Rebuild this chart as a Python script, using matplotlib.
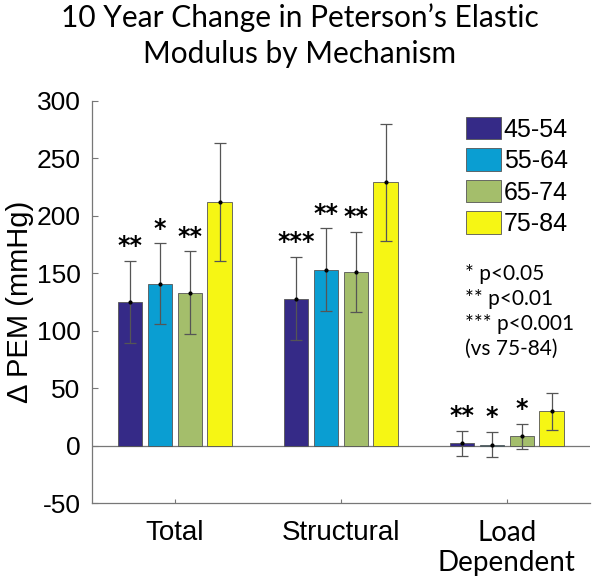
import matplotlib
matplotlib.use("Agg")
import matplotlib.pyplot as plt
import numpy as np

plt.rcParams["axes.unicode_minus"] = False

# data
groups = ["Total", "Structural", "Load\nDependent"]
age_bands = ["45-54", "55-64", "65-74", "75-84"]
colors = ["#352a87", "#0a9ed2", "#a4be6b", "#f6f614"]

pem_45 = [125, 128, 2]
pem_55 = [141, 153, 1]
pem_65 = [133, 151, 8]
pem_75 = [212, 229, 30]
err_45 = [36, 36, 11]
err_55 = [35, 36, 11]
err_65 = [36, 35, 11]
err_75 = [51, 51, 16]
stars_45 = ["**", "***", "**"]
stars_55 = ["*", "**", "*"]
stars_65 = ["**", "**", "*"]
stars_75 = ["", "", ""]

means = [pem_45, pem_55, pem_65, pem_75]
errs = [err_45, err_55, err_65, err_75]
stars = [stars_45, stars_55, stars_65, stars_75]

fig = plt.figure(figsize=(6, 5.83), dpi=100)
ax = fig.add_axes([0.153, 0.137, 0.83, 0.69])

x = np.arange(1, len(groups) + 1)
width = 0.147
pitch = 0.18
for i in range(len(age_bands)):
    xs = x + (i - 1.5) * pitch
    ax.bar(xs, means[i], width, color=colors[i], edgecolor="#555555",
           linewidth=0.6, label=age_bands[i], zorder=2)
    ax.errorbar(xs, means[i], yerr=errs[i], fmt="o", ms=2, color="black",
                ecolor="#555555", elinewidth=0.9, capsize=4, capthick=0.9, zorder=3)
    for xi, m, e, s in zip(xs, means[i], errs[i], stars[i]):
        if s:
            ax.annotate(s, (xi, m + e), xytext=(0, 2), textcoords="offset points",
                        ha="center", va="bottom", fontsize=17, fontweight="bold",
                        family="DejaVu Sans")

ax.axhline(0, color="#777777", lw=0.9, zorder=1)
ax.set_xlim(0.5, 3.5)
ax.set_ylim(-50, 300)
ax.set_yticks(np.arange(-50, 301, 50))
ax.set_xticks(x)
ax.set_xticklabels(groups)
for lab in ax.get_xticklabels():
    lab.set_family("Lato" if "\n" in lab.get_text() else "Liberation Sans")
    lab.set_fontsize(20)
ax.tick_params(axis="y", direction="in", length=4, labelsize=19, color="#777777", pad=8)
ax.tick_params(axis="x", direction="in", length=3, color="#777777", pad=12)
for lab in ax.get_yticklabels():
    lab.set_family("Liberation Sans")
for sp in ["top", "right"]:
    ax.spines[sp].set_visible(False)
for sp in ["left", "bottom"]:
    ax.spines[sp].set_color("#777777")
    ax.spines[sp].set_linewidth(0.9)

ax.set_ylabel("\u0394 PEM (mmHg)", fontsize=21, family="Liberation Sans", labelpad=2)

leg = ax.legend(loc="upper left", bbox_to_anchor=(0.752, 0.96), frameon=False,
                prop={"family": "Liberation Sans", "size": 18},
                handlelength=1.4, handleheight=1.0, handletextpad=0.1, labelspacing=0.27,
                borderaxespad=0, borderpad=0)
for h in leg.legend_handles:
    h.set_edgecolor("#555555")

ax.text(0.749, 0.595, "* p<0.05\n** p<0.01\n*** p<0.001\n(vs 75-84)", transform=ax.transAxes,
        ha="left", va="top", fontsize=15, family="Lato", linespacing=1.32)

fig.suptitle("10 Year Change in Peterson\u2019s Elastic\nModulus by Mechanism",
             fontsize=21.5, family="Lato", y=0.995, va="top", linespacing=1.38)

fig.savefig("out.png", dpi=100)
